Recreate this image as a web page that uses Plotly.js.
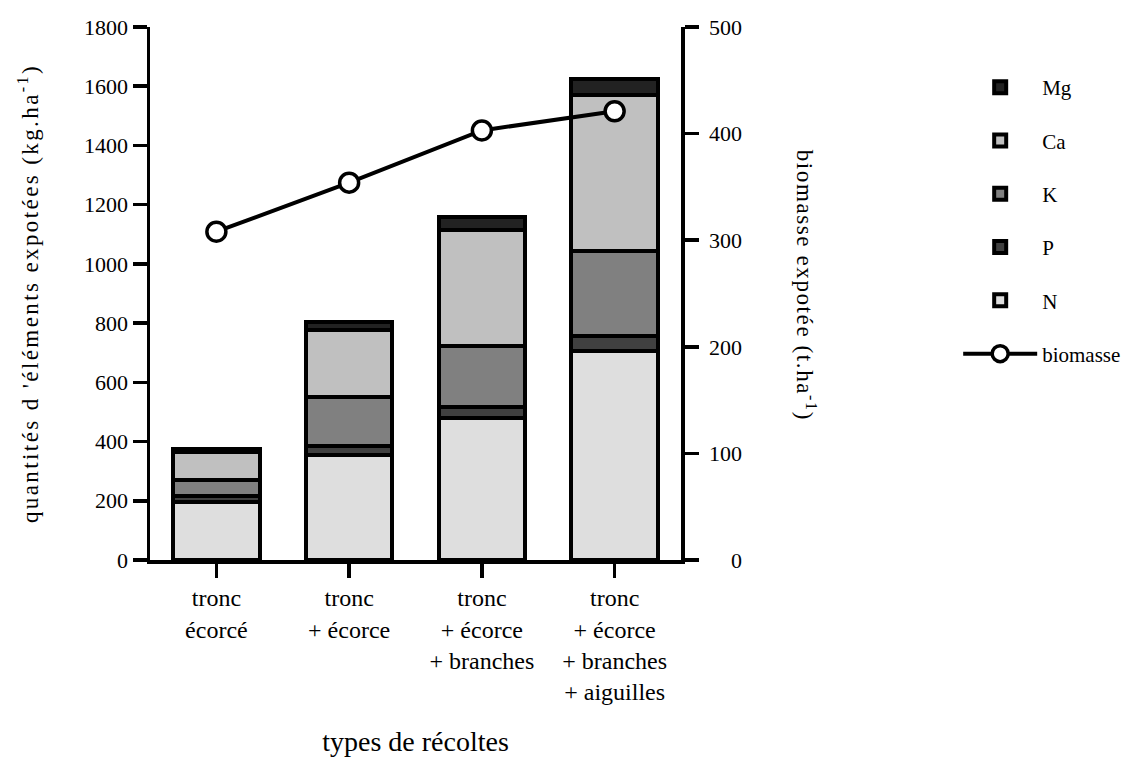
<!DOCTYPE html>
<html>
<head>
<meta charset="utf-8">
<script src="https://cdn.plot.ly/plotly-3.0.1.min.js"></script>
<style>
body{margin:0;padding:0;background:#fff}
#chart{width:1122px;height:763px}
#chart .ytitle{letter-spacing:2.4px}
#chart .annotation-text{letter-spacing:1.6px}
</style>
</head>
<body>
<div id="chart"></div>
<script>
const categories = ["tronc<br>écorcé", "tronc<br>+ écorce", "tronc<br>+ écorce<br>+ branches", "tronc<br>+ écorce<br>+ branches<br>+ aiguilles"];
const N = [195, 353, 481, 705];
const P = [20, 31, 37, 53];
const K = [55, 168, 206, 287];
const Ca = [95, 225, 390, 525];
const Mg = [10, 27, 43, 54];
const biomasse = [308, 354, 403, 421];
const y2TickVals = [0, 100, 200, 300, 400, 500];
const y2TickText = ["\u2007\u20070", "100", "200", "300", "400", "500"];

const FONT = "Liberation Serif";
const line = {color: "#000", width: 4};

function barTrace(name, vals, color, rank) {
  return {type: "bar", name: name, x: categories, y: vals, width: 0.65,
    marker: {color: color, line: line}, legendgroup: name, legendrank: rank, hoverinfo: "y+name"};
}

const data = [
  barTrace("N", N, "#dedede", 5),
  barTrace("P", P, "#404040", 4),
  barTrace("K", K, "#808080", 3),
  barTrace("Ca", Ca, "#c0c0c0", 2),
  barTrace("Mg", Mg, "#222222", 1),
  {type: "scatter", mode: "lines+markers", name: "biomasse", x: categories, y: biomasse,
   yaxis: "y2", legendgroup: "biomasse", legendrank: 6,
   line: {color: "#000", width: 4},
   marker: {size: 19, color: "#fff", line: {color: "#000", width: 3.5}}}
];

const axisCommon = {showline: true, linecolor: "#000", linewidth: 3.5, ticks: "outside",
  ticklen: 14, tickwidth: 3.5, tickcolor: "#000", showgrid: false, zeroline: false,
  tickfont: {family: FONT, size: 22, color: "#000"}, fixedrange: true};

const layout = {
  width: 1122, height: 763,
  margin: {l: 150, r: 441, t: 27, b: 203, autoexpand: false},
  paper_bgcolor: "#fff", plot_bgcolor: "#fff",
  font: {family: FONT, color: "#000"},
  barmode: "stack",
  xaxis: Object.assign({}, axisCommon, {type: "category", range: [-0.5, 3.5],
    tickfont: {family: FONT, size: 24, color: "#000"},
    title: {text: "types de récoltes", font: {family: FONT, size: 28, color: "#000"}, standoff: 28}}),
  yaxis: Object.assign({}, axisCommon, {range: [0, 1800], dtick: 200, tick0: 0,
    title: {text: "quantités d 'éléments expotées (kg.ha<sup>-1</sup>)", font: {family: FONT, size: 23, color: "#000"}, standoff: 40}}),
  yaxis2: Object.assign({}, axisCommon, {overlaying: "y", side: "right", range: [0, 500],
    tickmode: "array", tickvals: y2TickVals, ticktext: y2TickText, ticklabelstandoff: 6}),
  showlegend: true,
  legend: {x: 1.522, xanchor: "left", y: 0.925, yanchor: "top", traceorder: "grouped",
    itemwidth: 74, tracegroupgap: 23, font: {family: FONT, size: 21, color: "#000"}, bgcolor: "rgba(0,0,0,0)"},
  annotations: [{xref: "paper", yref: "paper", x: 1.235, y: 0.515, xanchor: "center", yanchor: "middle",
    text: "biomasse expotée (t.ha<sup>-1</sup>)", textangle: 90, showarrow: false,
    font: {family: FONT, size: 23, color: "#000"}}]
};

Plotly.newPlot("chart", data, layout, {displayModeBar: false, staticPlot: true});
</script>
</body>
</html>
